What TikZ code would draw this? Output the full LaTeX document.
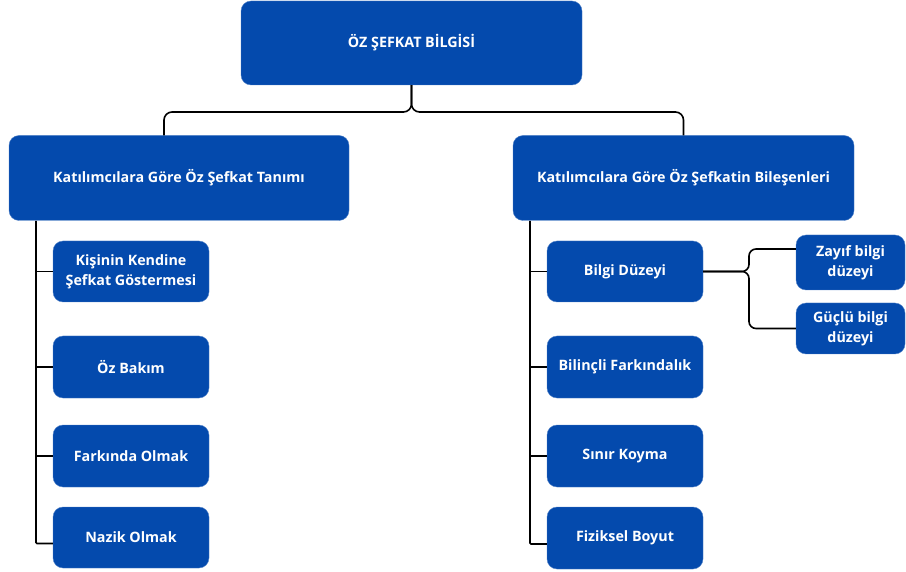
\documentclass[tikz,border=0pt]{standalone}
\usepackage{fontspec}
\setmainfont{Open Sans}
\definecolor{boxblue}{RGB}{4,74,173}
\tikzset{
  box/.style={fill=boxblue, draw=boxblue!70!white, line width=0.4pt, rounded corners=10pt, text=white,
    font=\fontsize{14.3}{20}\selectfont\bfseries, align=center, inner sep=0pt},
  conn/.style={draw=black, line width=1.6pt},
}
\begin{document}
\begin{tikzpicture}[x=1pt,y=-1pt]
\useasboundingbox (0,0) rectangle (906,572);
% top
\node[box, minimum width=341pt, minimum height=84pt] (top) at (411.5,43) {ÖZ ŞEFKAT BİLGİSİ};
% level 1
\node[box, minimum width=340pt, minimum height=85pt] (k1) at (179,178) {Katılımcılara Göre Öz Şefkat Tanımı};
\node[box, minimum width=341pt, minimum height=85pt] (k2) at (683.5,178) {Katılımcılara Göre Öz Şefkatin Bileşenleri};
% left children
\node[box, minimum width=156pt, minimum height=61pt] (l1) at (131,271.5) {Kişinin Kendine\\Şefkat Göstermesi};
\node[box, minimum width=156pt, minimum height=62pt] (l2) at (131,367) {Öz Bakım};
\node[box, minimum width=156pt, minimum height=62pt] (l3) at (131,456) {Farkında Olmak};
\node[box, minimum width=156pt, minimum height=61pt] (l4) at (131,537.5) {Nazik Olmak};
% right children
\node[box, minimum width=156pt, minimum height=61pt] (r1) at (625,271.5) {Bilgi Düzeyi};
\node[box, minimum width=156pt, minimum height=62pt] (r2) at (625,367) {Bilinçli Farkındalık};
\node[box, minimum width=156pt, minimum height=62pt] (r3) at (625,456) {Sınır Koyma};
\node[box, minimum width=156pt, minimum height=62pt] (r4) at (625,538) {Fiziksel Boyut};
% sub children
\node[box, minimum width=109pt, minimum height=55pt] (z1) at (850.5,262.5) {Zayıf bilgi\\düzeyi};
\node[box, minimum width=109pt, minimum height=51pt] (g1) at (850.5,328.5) {Güçlü bilgi\\düzeyi};
% coordinates
\coordinate (tj) at (411.5,112);
\coordinate (lt) at (36,221);
\coordinate (rt) at (530,221);
\coordinate (bj) at (749,271.5);
% top connectors
\draw[conn, rounded corners=8pt] (top.south) -- (tj) -| (k1.north -| 164,0);
\draw[conn, rounded corners=8pt] (top.south) -- (tj) -| (k2.north);
% left trunk
\draw[conn, rounded corners=1pt] (lt) |- ([yshift=-6pt]l4.west);
\foreach \n in {l1,l2,l3} \draw[conn] (lt |- \n.west) -- (\n.west);
% right trunk
\draw[conn, rounded corners=1pt] (rt) |- ([yshift=-6pt]r4.west);
\foreach \n in {r1,r2,r3} \draw[conn] (rt |- \n.west) -- (\n.west);
% sub connectors
\draw[conn, rounded corners=7pt] (r1.east) -- (bj) |- (z1.west |- 0,249);
\draw[conn, rounded corners=7pt] (r1.east) -- (bj) |- (g1.west);
\end{tikzpicture}
\end{document}
